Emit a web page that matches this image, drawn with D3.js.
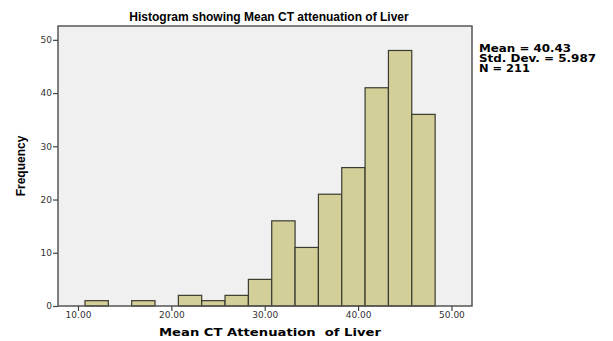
<!DOCTYPE html>
<html>
<head>
<meta charset="utf-8">
<script src="https://cdn.jsdelivr.net/npm/d3@7"></script>
<style>
  body { margin: 0; background: #fff; }
  svg { display: block; font-family: "Liberation Sans", Arial, sans-serif; }
</style>
</head>
<body>
<div class="hist-holder"></div>
<script>
// bin start values (width 2.5) and counts
var binStarts = [10.75, 13.25, 15.75, 18.25, 20.75, 23.25, 25.75, 28.25, 30.75, 33.25, 35.75, 38.25, 40.75, 43.25, 45.75];
var counts = [1, 0, 1, 0, 2, 1, 2, 5, 16, 11, 21, 26, 41, 48, 36];
var binWidth = 2.5;
var xTicks = [10, 20, 30, 40, 50];
var yTicks = [0, 10, 20, 30, 40, 50];
var statLines = ["Mean = 40.43", "Std. Dev. = 5.987", "N = 211"];

var data = binStarts.map(function(s, i) { return {x0: s, x1: s + binWidth, n: counts[i]}; });

var W = 613, H = 341;
var margin = {top: 26, right: 141, bottom: 35, left: 58};
var width = W - margin.left - margin.right;
var height = H - margin.top - margin.bottom;

var scaleX = d3.scaleLinear().domain([7.86, 52.2]).range([0, width]);
var scaleY = d3.scaleLinear().domain([0, 52.6]).range([height, 0]);

var svg = d3.select(".hist-holder").append("svg")
    .attr("width", W).attr("height", H);

var grp = svg.append("g").attr("transform", `translate(${margin.left}, ${margin.top})`);

/* plot background */
grp.append("rect")
    .attr("width", width).attr("height", height)
    .attr("fill", "#f0f0f0");

/* bars */
grp.selectAll("rect.bar")
    .data(data.filter(function(d) { return d.n > 0; }))
    .enter().append("rect")
    .attr("class", "bar")
    .attr("x", function(d) { return scaleX(d.x0); })
    .attr("width", function(d) { return scaleX(d.x1) - scaleX(d.x0); })
    .attr("y", function(d) { return scaleY(d.n); })
    .attr("height", function(d) { return scaleY(0) - scaleY(d.n); })
    .attr("fill", "#d3cf99")
    .attr("stroke", "#3a3a30")
    .attr("stroke-width", 1.2);

/* frame */
grp.append("rect")
    .attr("width", width).attr("height", height)
    .attr("fill", "none")
    .attr("stroke", "#555")
    .attr("stroke-width", 1.5);

/* axes */
var xAxis = grp.append("g")
    .attr("transform", `translate(0, ${height})`)
    .call(d3.axisBottom(scaleX).tickValues(xTicks).tickFormat(d3.format(".2f")).tickSize(5).tickSizeOuter(0));
var yAxis = grp.append("g")
    .call(d3.axisLeft(scaleY).tickValues(yTicks).tickSize(5).tickSizeOuter(0));

[xAxis, yAxis].forEach(function(a) {
  a.select(".domain").remove();
  a.selectAll("line").attr("stroke", "#444").attr("stroke-width", 1.2);
  a.selectAll("text").attr("fill", "#333").style("font-size", "9px")
      .style("font-family", "'DejaVu Sans', sans-serif");
});
xAxis.selectAll("text").attr("y", 12).attr("dy", 0);
yAxis.selectAll("text").attr("x", -6);

/* title */
svg.append("text")
    .attr("x", margin.left + width / 2 + 4)
    .attr("y", 21)
    .attr("text-anchor", "middle")
    .style("font-size", "12px")
    .style("font-weight", "bold")
    .text("Histogram showing Mean CT attenuation of Liver");

/* Y-axis label */
svg.append("text")
    .attr("transform", "rotate(270)")
    .attr("x", -166)
    .attr("y", 25)
    .attr("text-anchor", "middle")
    .style("font-size", "12px")
    .style("font-weight", "bold")
    .style("font-family", "'Liberation Sans Narrow', 'Arial Narrow', sans-serif")
    .text("Frequency");

/* X-axis label - the original is stretched sideways */
svg.append("text")
    .attr("x", 159)
    .attr("y", 336)
    .attr("textLength", 222)
    .attr("lengthAdjust", "spacingAndGlyphs")
    .style("font-size", "10.5px")
    .style("font-weight", "bold")
    .style("font-family", "'DejaVu Sans', sans-serif")
    .style("white-space", "pre")
    .attr("xml:space", "preserve")
    .text("Mean CT Attenuation  of Liver");

/* statistics */
var statWidths = [92, 117, 51];
svg.append("g").selectAll("text")
    .data(statLines)
    .enter().append("text")
    .attr("x", 479)
    .attr("y", function(d, i) { return 52 + i * 10; })
    .attr("textLength", function(d, i) { return statWidths[i]; })
    .attr("lengthAdjust", "spacingAndGlyphs")
    .style("font-size", "10px")
    .style("font-weight", "bold")
    .style("font-family", "'DejaVu Sans', sans-serif")
    .text(function(d) { return d; });
</script>
</body>
</html>
